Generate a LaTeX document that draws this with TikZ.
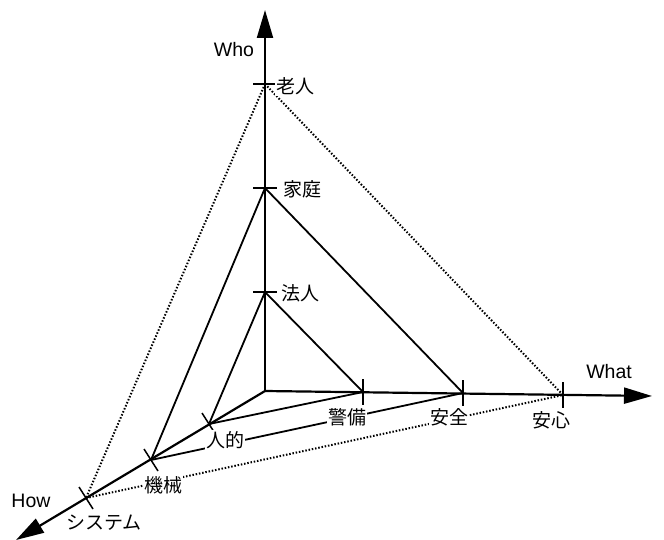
\documentclass[tikz,border=0pt]{standalone}
\usepackage{fontspec}
\setmainfont{Liberation Sans}
\newfontfamily\cjk{Noto Sans CJK JP}
\usetikzlibrary{arrows.meta,calc}
\begin{document}
\begin{tikzpicture}[x=1pt,y=-1pt,
  axis/.style={line width=2.2pt,-{Triangle[length=28pt,width=16pt]}},
  solidline/.style={line width=1.8pt},
  dotline/.style={line width=2pt,dash pattern=on 1.5pt off 1.8pt},
  tick/.style={line width=1.5pt},
  lab/.style={font=\fontsize{19.5}{22}\selectfont, inner sep=1pt},
  jlab/.style={font=\cjk\fontsize{19}{22}\selectfont, inner sep=1pt, fill=white}]
\useasboundingbox (0,0) rectangle (664,540);
% points
\coordinate (O) at (265,391);
\coordinate (whotip) at (265,10);
\coordinate (whattip) at (652,396);
\coordinate (howtip) at (16,540);
\coordinate (rojin) at (265,84);
\coordinate (katei) at (265,188);
\coordinate (hojin) at (265,292);
\coordinate (keibi) at (363,392);
\coordinate (anzen) at (463,393);
\coordinate (anshin) at (563,395);
\coordinate (jinteki) at (209,424);
\coordinate (kikai) at (151,460);
\coordinate (system) at (86,498);
% axes
\draw[axis] (O) -- (whotip);
\draw[axis] (O) -- (whattip);
\draw[axis] (O) -- (howtip);
% triangles
\draw[solidline] (hojin) -- (keibi);
\draw[solidline] (hojin) -- (jinteki);
\draw[solidline] (jinteki) -- (keibi);
\draw[solidline] (katei) -- (anzen);
\draw[solidline] (katei) -- (kikai);
\draw[solidline] (kikai) -- (anzen);
\draw[dotline] (rojin) -- (anshin);
\draw[dotline] (rojin) -- (system);
\draw[dotline] (system) -- (anshin);
% ticks
\foreach \p in {rojin,katei,hojin}
  \draw[tick] ($(\p)+(-12,0)$) -- ($(\p)+(12,0)$);
\foreach \p in {keibi,anzen,anshin}
  \draw[tick] ($(\p)+(0,-13)$) -- ($(\p)+(0,13)$);
\foreach \p in {jinteki,kikai,system}
  \draw[tick] ($(\p)+(-7,-11)$) -- ($(\p)+(7,11)$);
% labels
\node[lab] (who) at (234,50) {Who};
\node[lab] (what) at (609,372) {What};
\node[lab] (how) at (31,501) {How};
\node[jlab] (lrojin) at (295,86) {老人};
\node[jlab] (lkatei) at (302,189) {家庭};
\node[jlab] (lhojin) at (300,293) {法人};
\node[jlab] (lkeibi) at (347,417) {警備};
\node[jlab] (lanzen) at (449,417) {安全};
\node[jlab] (lanshin) at (551,420) {安心};
\node[jlab] (ljinteki) at (225,440) {人的};
\node[jlab] (lkikai) at (163,485) {機械};
\node[jlab] (lsystem) at (104,523) {システム};
\end{tikzpicture}
\end{document}
